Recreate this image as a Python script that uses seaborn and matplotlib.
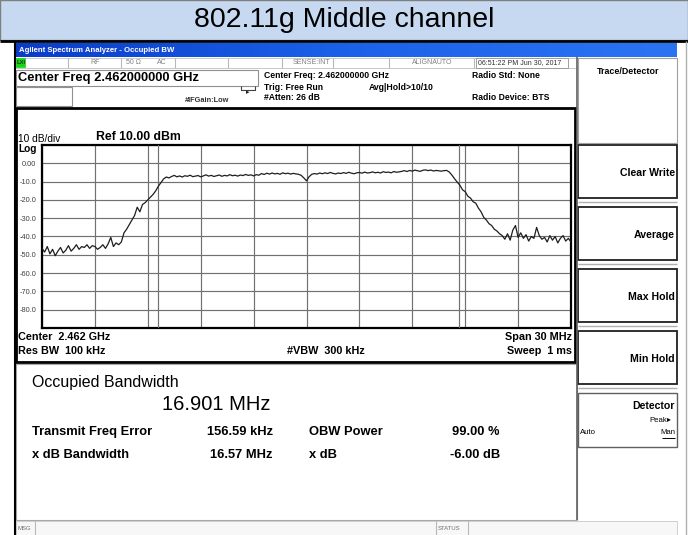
import numpy as np
import pandas as pd
import matplotlib
matplotlib.use('Agg')
import matplotlib.pyplot as plt
from matplotlib.patches import Rectangle
from matplotlib.colors import LinearSegmentedColormap
import seaborn as sns

# trace: 201 sweep points over the 30 MHz span (offset from centre, MHz)
freq_mhz = np.linspace(-15, 15, 201)
level_dbm = [
    # left noise floor
    -46.5, -48.5, -45.5, -49.5, -47.0, -50.5, -48.0, -46.0, -49.0, -47.5,
    -45.0, -48.0, -46.5, -44.5, -47.0, -45.5, -46.0, -44.5, -46.5, -45.0,
    -45.5, -47.0, -46.0, -44.5, -46.5, -44.0, -40.5, -45.5, -43.5, -44.5,
    # rising edge
    -43.0, -38.0, -36.0, -33.5, -31.0, -28.5, -24.0, -26.5, -22.5, -21.5,
    -20.0, -18.5, -17.0, -15.0, -12.5, -10.5, -8.5, -7.5, -8.0,
    # top of the channel
    -7.2, -6.6, -7.4, -6.9, -7.5, -6.8, -7.1, -6.5, -7.3, -7.0,
    -6.7, -7.4, -6.9, -6.3, -7.0, -6.6, -7.2, -6.8, -6.4, -7.1,
    -6.6, -6.9, -6.2, -6.8, -6.5, -7.0, -6.4, -6.7, -6.1, -6.6,
    -6.3, -6.9, -6.2, -6.5,
    -5.6, -6.1, -5.4, -5.9, -5.3, -5.8, -5.5, -6.0, -5.2, -5.7,
    -5.4, -5.9, -5.5, -5.8, -6.0,
    -6.6, -8.0, -9.6, -7.3,
    -6.0, -5.6, -5.9, -5.3, -5.7, -5.2, -5.6, -5.0, -5.5, -5.8,
    -5.3, -5.6, -5.1, -5.5, -4.9, -5.4, -5.7, -5.2, -5.0, -5.4,
    -4.8, -5.3, -5.1, -4.7, -5.2, -4.9, -5.3, -4.6, -5.0, -4.8,
    -5.2, -4.5, -4.9, -4.7,
    -4.4, -4.0, -4.5, -3.9, -4.3, -3.7, -4.1, -4.4, -3.8, -3.6,
    -4.0, -3.7, -4.2, -3.9, -4.1, -4.3, -4.0,
    # falling edge
    -3.9, -4.8, -6.5, -8.5, -10.3, -12.0, -14.5, -15.5, -18.0, -19.0,
    -21.0, -21.8, -24.5, -26.5, -29.5, -31.0, -33.0, -34.0, -36.0, -37.0,
    -38.5,
    # right noise floor
    -39.5, -41.5, -38.5, -42.0, -36.5, -34.0, -40.5, -38.0, -41.0, -39.0,
    -42.5, -40.0, -41.0, -35.0, -39.5, -41.5, -40.5, -43.0, -39.5, -42.0,
    -40.0, -43.5, -41.0, -39.5, -42.5, -41.0, -43.0,
]
assert len(level_dbm) == len(freq_mhz)

obw_edges = [-8.4, 8.65]        # OBW marker lines, MHz
grid_freq = np.arange(-15, 16, 3)
y_ticks = [10, 0, -10, -20, -30, -40, -50, -60, -70, -80, -90]
y_tick_labels = ['', '0.00', '-10.0', '-20.0', '-30.0', '-40.0', '-50.0',
                 '-60.0', '-70.0', '-80.0', '']

df = pd.DataFrame({'freq': freq_mhz, 'level': level_dbm})

sns.set_style('white')
plt.rcParams['font.family'] = ['Liberation Sans', 'DejaVu Sans']

W, H = 688, 535
fig = plt.figure(figsize=(W / 100, H / 100), dpi=100)

# whole-picture axes in pixel coordinates for the instrument frame
bg = fig.add_axes([0, 0, 1, 1])
bg.set_xlim(0, W)
bg.set_ylim(H, 0)
bg.axis('off')


def txt(x, y, s, size, weight='normal', ha='left', color='black', **kw):
    bg.text(x, y, s, fontsize=size, fontweight=weight, ha=ha, va='center',
            color=color, **kw)


def box(x0, y0, x1, y1, fc='white', ec='#808080', lw=1.0, z=1):
    bg.add_patch(Rectangle((x0, y0), x1 - x0, y1 - y0, fc=fc, ec=ec, lw=lw, zorder=z))


def line(xs, ys, color='#808080', lw=1.0, z=2):
    bg.plot(xs, ys, color=color, lw=lw, zorder=z, solid_capstyle='butt')


# page title
box(0, 0, W, 40, fc='#c6d9f1', ec='#7f7f7f')
txt(344, 20, '802.11g Middle channel', 20.5, ha='center')
line([0, W], [41, 41], color='black', lw=2)
line([15, 15], [41, H], color='black', lw=1.5)
line([686, 686], [41, H], color='#b0b0b0', lw=1)

# window title bar
grad = np.linspace(0, 1, 256).reshape(1, -1)
cmap = LinearSegmentedColormap.from_list('xp', ['#0b3cc8', '#1a62ea', '#2a74f4'])
bg.imshow(grad, extent=[16, 677, 57, 43], aspect='auto', cmap=cmap, zorder=1)
bg.set_xlim(0, W)
bg.set_ylim(H, 0)
txt(19, 50, 'Agilent Spectrum Analyzer - Occupied BW', 5.6, 'bold', color='white')

# status row
box(16, 58, 677, 68, ec='#c0c0c0', lw=0.6)
box(16, 58, 25, 67, fc='#19d419', ec='#19d419', lw=0.5, z=3)
txt(17, 62.5, 'LXI', 4.2, 'bold', color='#1a3a1a', zorder=4)
for sx in [68, 121, 175, 228, 282, 333, 389, 474]:
    line([sx, sx], [58, 68], color='#b8b8b8', lw=0.8)
box(476, 58, 568, 68, ec='#909090', lw=0.6, z=3)
txt(90, 63, 'RF', 5, color='#808080')
txt(126, 63, '50 Ω', 5, color='#808080')
txt(157, 63, 'AC', 5, color='#808080')
txt(293, 63, 'SENSE:INT', 5, color='#808080')
txt(412, 63, 'ALIGNAUTO', 5, color='#808080')
txt(478, 63, '06:51:22 PM Jun 30, 2017', 5, color='#303030', zorder=4)

# setting rows
box(16, 70, 258, 86, ec='#909090', lw=0.8)
txt(18, 78, 'Center Freq 2.462000000 GHz', 9.3, 'bold')
box(16, 87, 72, 106, ec='#909090', lw=0.8)
txt(185, 100, '#IFGain:Low', 5.3, 'bold', color='#303030')
line([241, 241, 255, 255], [86, 89.5, 89.5, 86], color='#404040', lw=0.8)
txt(246, 92.5, '▸', 5, color='#202020')
txt(264, 75, 'Center Freq: 2.462000000 GHz', 6.2, 'bold')
txt(264, 87, 'Trig: Free Run', 6.2, 'bold')
txt(264, 98, '#Atten: 26 dB', 6.2, 'bold')
txt(369, 87, 'Avg|Hold>10/10', 6.2, 'bold')
txt(472, 75, 'Radio Std: None', 6.2, 'bold')
txt(472, 98, 'Radio Device: BTS', 6.2, 'bold')

# trace window frame and labels
box(16, 108, 575, 362, ec='black', lw=2)
txt(18, 139, '10 dB/div', 7.3)
txt(96, 137, 'Ref 10.00 dBm', 8.8, 'bold')
txt(18, 149, 'Log', 7.3, 'bold')
txt(18, 337, 'Center  2.462 GHz', 7.8, 'bold')
txt(18, 351, 'Res BW  100 kHz', 7.8, 'bold')
txt(287, 351, '#VBW  300 kHz', 7.8, 'bold')
txt(572, 337, 'Span 30 MHz', 7.8, 'bold', ha='right')
txt(572, 351, 'Sweep  1 ms', 7.8, 'bold', ha='right')

# result panel
box(16, 364, 577, 520, ec='#a8a8a8', lw=0.8)
txt(32, 382, 'Occupied Bandwidth', 11.5)
txt(162, 405, '16.901 MHz', 14.5)
txt(32, 432, 'Transmit Freq Error', 9.3, 'bold')
txt(273, 432, '156.59 kHz', 9.3, 'bold', ha='right')
txt(309, 432, 'OBW Power', 9.3, 'bold')
txt(500, 432, '99.00 %', 9.3, 'bold', ha='right')
txt(32, 455, 'x dB Bandwidth', 9.3, 'bold')
txt(273, 455, '16.57 MHz', 9.3, 'bold', ha='right')
txt(309, 455, 'x dB', 9.3, 'bold')
txt(500, 455, '-6.00 dB', 9.3, 'bold', ha='right')

# message bar
box(16, 521, 677, H, fc='#f7f7f7', ec='#c8c8c8', lw=0.6)
for sx in [35, 436, 468]:
    line([sx, sx], [521, H], color='#b8b8b8', lw=0.8)
txt(18, 528, 'MSG', 4.3, color='#707070')
txt(438, 528, 'STATUS', 4.3, color='#707070')

# softkey column
line([577, 577], [57, 520], color='#606060', lw=1.2)
box(578, 58, 677, 143, ec='#a0a0a0', lw=0.8)
txt(628, 71, 'Trace/Detector', 6.4, 'bold', ha='center')
keys = ['Clear Write', 'Average', 'Max Hold', 'Min Hold']
for k, name in enumerate(keys):
    top = 145 + 62 * k
    box(578, top, 677, top + 53, ec='#202020', lw=1.3)
    line([578, 677], [top + 57, top + 57], color='#b0b0b0', lw=1)
    txt(675, top + 28, name, 7.6, 'bold', ha='right')
box(578, 393, 677, 447, ec='#606060', lw=1)
txt(675, 406, 'Detector', 7.6, 'bold', ha='right')
txt(667, 420, 'Peak', 5.6, ha='right')
txt(667, 420, '▸', 5.6)
txt(580, 433, 'Auto', 5.6)
txt(675, 433, 'Man', 5.6, ha='right')
line([662, 675], [438, 438], color='black', lw=0.7)

# graticule with the trace
gx0, gx1, gy0, gy1 = 42, 571, 145, 328
ax = fig.add_axes([gx0 / W, (H - gy1) / H, (gx1 - gx0) / W, (gy1 - gy0) / H])
ax.set_zorder(5)
ax.set_facecolor('white')
sns.lineplot(data=df, x='freq', y='level', ax=ax, color='#1e1e1e', lw=0.9, zorder=4)
for f in obw_edges:
    ax.axvline(f, color='#707070', lw=0.85, zorder=3)
ax.set_xlim(-15, 15)
ax.set_ylim(-90, 10)
ax.set_xticks(grid_freq)
ax.set_xticklabels([])
ax.set_yticks(y_ticks)
ax.set_yticklabels(y_tick_labels)
ax.tick_params(axis='both', length=0)
ax.tick_params(axis='y', labelsize=5.3, labelcolor='#404040', pad=4)
ax.grid(True, color='#707070', lw=0.85)
ax.set_xlabel('')
ax.set_ylabel('')
for s in ax.spines.values():
    s.set_color('black')
    s.set_linewidth(1.6)

fig.savefig('out.png', dpi=100)
